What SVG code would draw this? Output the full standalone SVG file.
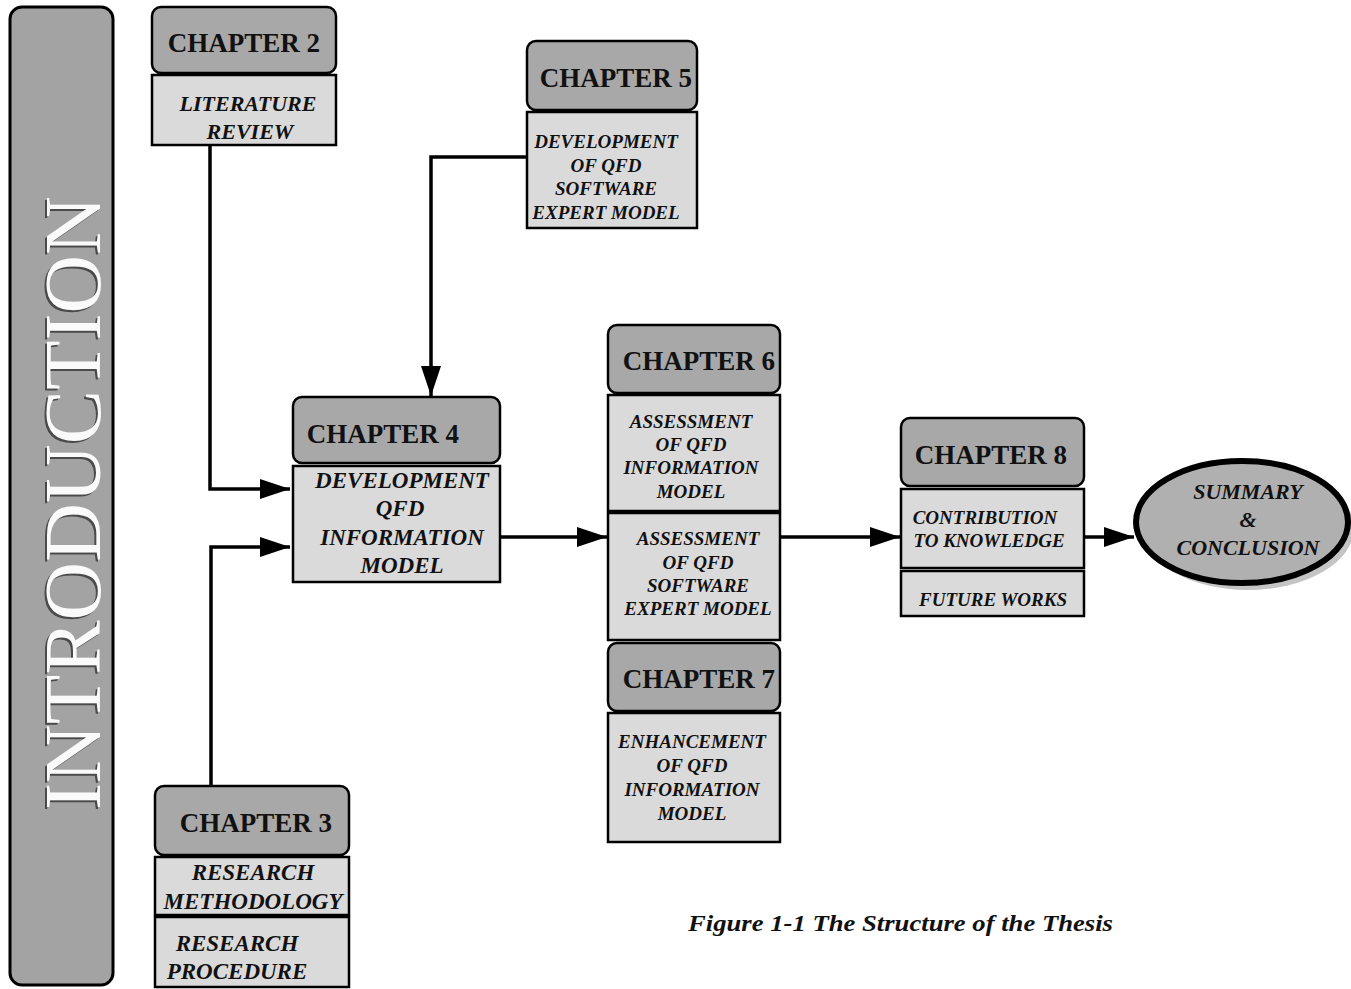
<svg xmlns="http://www.w3.org/2000/svg" width="1351" height="989" viewBox="0 0 1351 989">
  <style>
    .bar { fill: #a3a3a3; stroke: #000; stroke-width: 3; }
    .head { fill: #a8a8a8; stroke: #000; stroke-width: 2.5; }
    .body { fill: #dadada; stroke: #000; stroke-width: 2.5; }
    .ch { font-family: "Liberation Serif", "Times New Roman", serif; font-weight: bold; font-size: 27px; fill: #111; text-anchor: middle; }
    .t { font-family: "Liberation Serif", "Times New Roman", serif; font-weight: bold; font-style: italic; fill: #111; text-anchor: middle; }
    .s19 { font-size: 19px; }
    .s22 { font-size: 22px; }
    .s23 { font-size: 23px; }
    .line { fill: none; stroke: #000; stroke-width: 3.5; }
    .intro { font-family: "Liberation Serif", "Times New Roman", serif; font-size: 80px; text-anchor: middle; }
  </style>
  <defs>
    <marker id="arrow" viewBox="0 0 30 20" refX="30" refY="10" markerWidth="30" markerHeight="20" markerUnits="userSpaceOnUse" orient="auto">
      <path d="M0,0 L30,10 L0,20 Z" fill="#000"/>
    </marker>
  </defs>
  <rect width="1351" height="989" fill="#fff"/>

  <!-- Introduction bar -->
  <g id="introduction">
    <rect class="bar" x="10" y="7" width="103" height="978" rx="12"/>
    <text class="intro" transform="translate(98,505) rotate(-90)" fill="#4a4a4a" textLength="614" lengthAdjust="spacingAndGlyphs">INTRODUCTION</text>
    <text class="intro" transform="translate(100,503) rotate(-90)" fill="#fafafa" textLength="614" lengthAdjust="spacingAndGlyphs">INTRODUCTION</text>
  </g>

  <!-- Connectors -->
  <g id="connectors">
    <polyline class="line" points="210,145 210,489 290,489" marker-end="url(#arrow)"/>
    <polyline class="line" points="211,786 211,547 290,547" marker-end="url(#arrow)"/>
    <polyline class="line" points="527,157 431,157 431,396" marker-end="url(#arrow)"/>
    <line class="line" x1="500" y1="537" x2="607" y2="537" marker-end="url(#arrow)"/>
    <line class="line" x1="780" y1="537" x2="900" y2="537" marker-end="url(#arrow)"/>
    <line class="line" x1="1084" y1="537" x2="1134" y2="537" marker-end="url(#arrow)"/>
  </g>

  <!-- Chapter 2 -->
  <g id="chapter2">
    <rect class="head" x="152" y="7" width="184" height="66" rx="9"/>
    <text class="ch" x="244" y="52">CHAPTER 2</text>
    <rect class="body" x="152" y="75" width="184" height="70"/>
    <text class="t s22" x="248" y="111">LITERATURE</text>
    <text class="t s22" x="250" y="139">REVIEW</text>
  </g>

  <!-- Chapter 3 -->
  <g id="chapter3">
    <rect class="head" x="155" y="786" width="194" height="69" rx="9"/>
    <text class="ch" x="256" y="832">CHAPTER 3</text>
    <rect class="body" x="155" y="857" width="194" height="58"/>
    <text class="t s23" x="253" y="880">RESEARCH</text>
    <text class="t s23" x="253" y="909">METHODOLOGY</text>
    <rect class="body" x="155" y="917" width="194" height="70"/>
    <text class="t s23" x="237" y="951">RESEARCH</text>
    <text class="t s23" x="237" y="979">PROCEDURE</text>
  </g>

  <!-- Chapter 4 -->
  <g id="chapter4">
    <rect class="head" x="293" y="397" width="207" height="66" rx="9"/>
    <text class="ch" x="383" y="443">CHAPTER 4</text>
    <rect class="body" x="293" y="466" width="207" height="116"/>
    <text class="t s23" x="402" y="488">DEVELOPMENT</text>
    <text class="t s23" x="400" y="516">QFD</text>
    <text class="t s23" x="402" y="545">INFORMATION</text>
    <text class="t s23" x="402" y="573">MODEL</text>
  </g>

  <!-- Chapter 5 -->
  <g id="chapter5">
    <rect class="head" x="527" y="41" width="170" height="69" rx="9"/>
    <text class="ch" x="616" y="87">CHAPTER 5</text>
    <rect class="body" x="527" y="112" width="170" height="116"/>
    <text class="t s19" x="606" y="148">DEVELOPMENT</text>
    <text class="t s19" x="606" y="172">OF QFD</text>
    <text class="t s19" x="606" y="195">SOFTWARE</text>
    <text class="t s19" x="606" y="219">EXPERT MODEL</text>
  </g>

  <!-- Chapter 6 -->
  <g id="chapter6">
    <rect class="head" x="608" y="325" width="172" height="68" rx="9"/>
    <text class="ch" x="699" y="370">CHAPTER 6</text>
    <rect class="body" x="608" y="395" width="172" height="116"/>
    <text class="t s19" x="691" y="428">ASSESSMENT</text>
    <text class="t s19" x="691" y="451">OF QFD</text>
    <text class="t s19" x="691" y="474">INFORMATION</text>
    <text class="t s19" x="691" y="498">MODEL</text>
    <rect class="body" x="608" y="513" width="172" height="127"/>
    <text class="t s19" x="698" y="545">ASSESSMENT</text>
    <text class="t s19" x="698" y="569">OF QFD</text>
    <text class="t s19" x="698" y="592">SOFTWARE</text>
    <text class="t s19" x="698" y="615">EXPERT MODEL</text>
  </g>

  <!-- Chapter 7 -->
  <g id="chapter7">
    <rect class="head" x="608" y="643" width="172" height="68" rx="9"/>
    <text class="ch" x="699" y="688">CHAPTER 7</text>
    <rect class="body" x="608" y="713" width="172" height="129"/>
    <text class="t s19" x="692" y="748">ENHANCEMENT</text>
    <text class="t s19" x="692" y="772">OF QFD</text>
    <text class="t s19" x="692" y="796">INFORMATION</text>
    <text class="t s19" x="692" y="820">MODEL</text>
  </g>

  <!-- Chapter 8 -->
  <g id="chapter8">
    <rect class="head" x="901" y="418" width="183" height="68" rx="9"/>
    <text class="ch" x="991" y="464">CHAPTER 8</text>
    <rect class="body" x="901" y="489" width="183" height="79"/>
    <text class="t s19" x="985" y="524">CONTRIBUTION</text>
    <text class="t s19" x="989" y="547">TO KNOWLEDGE</text>
    <rect class="body" x="901" y="571" width="183" height="45"/>
    <text class="t s19" x="993" y="606">FUTURE WORKS</text>
  </g>

  <!-- Summary ellipse -->
  <g id="summary">
    <ellipse cx="1248" cy="528" rx="106" ry="62" fill="#c4c4c4"/>
    <ellipse cx="1242" cy="522" rx="106" ry="61" fill="#b0b0b0" stroke="#000" stroke-width="6"/>
    <text class="t s22" x="1248" y="499">SUMMARY</text>
    <text class="t s22" x="1248" y="527">&amp;</text>
    <text class="t s22" x="1248" y="555">CONCLUSION</text>
  </g>

  <!-- Caption -->
  <text x="688" y="931" font-family="Liberation Serif, Times New Roman, serif" font-weight="bold" font-style="italic" font-size="23" fill="#111" textLength="425" lengthAdjust="spacingAndGlyphs">Figure 1-1  The Structure of the Thesis</text>
</svg>
